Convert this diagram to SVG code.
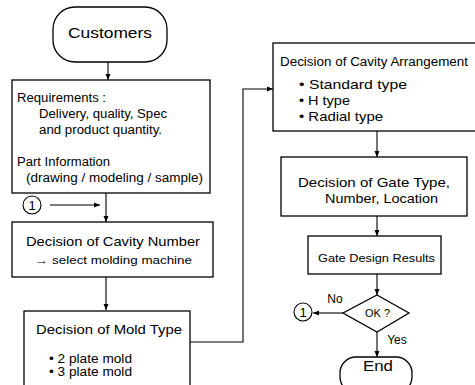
<svg xmlns="http://www.w3.org/2000/svg" width="475" height="385" viewBox="0 0 475 385">
  <defs>
    <marker id="arrow" viewBox="0 0 6 6" refX="6" refY="3" markerWidth="6" markerHeight="6" markerUnits="userSpaceOnUse" orient="auto">
      <path d="M0,0.5 L6,3 L0,5.5 Z" fill="#000"/>
    </marker>
  </defs>
  <style>
    .box { fill: #fff; stroke: #000; stroke-width: 1.3; }
    .edge { fill: none; stroke: #000; stroke-width: 1.1; marker-end: url(#arrow); }
    .ref { fill: #fff; stroke: #000; stroke-width: 1.1; }
    text { font-family: "Liberation Sans", Arial, sans-serif; fill: #000; }
    .t12 { font-size: 12px; }
    .t13 { font-size: 13px; }
    .t11 { font-size: 11px; }
    .t15 { font-size: 15px; }
    .mid { text-anchor: middle; }
  </style>
  <rect width="475" height="385" fill="#fff"/>

  <!-- connectors -->
  <g id="connectors">
    <path class="edge" d="M108,62 V80"/>
    <path class="edge" d="M106,193 V222"/>
    <path class="edge" d="M50,205 H100"/>
    <path class="edge" d="M106,277 V310"/>
    <path class="edge" d="M190,342 H243 V89 H273"/>
    <path class="edge" d="M377,131 V157"/>
    <path class="edge" d="M377,216 V236"/>
    <path class="edge" d="M377,274 V295"/>
    <path class="edge" d="M343,313 H313"/>
    <path class="edge" d="M377,332 V357"/>
    <text class="t12 mid" x="335" y="303">No</text>
    <text class="t12 mid" x="397" y="344">Yes</text>
  </g>

  <g id="customers">
    <rect class="box" x="53" y="7" width="114" height="55" rx="22" ry="22"/>
    <text class="t15 mid" x="110" y="38" textLength="84" lengthAdjust="spacingAndGlyphs">Customers</text>
  </g>

  <g id="requirements">
    <rect class="box" x="12" y="80" width="198" height="113"/>
    <text class="t12" x="17" y="102" textLength="89" lengthAdjust="spacingAndGlyphs">Requirements :</text>
    <text class="t12" x="39" y="118" textLength="128" lengthAdjust="spacingAndGlyphs">Delivery, quality, Spec</text>
    <text class="t12" x="39" y="134" textLength="123" lengthAdjust="spacingAndGlyphs">and product quantity.</text>
    <text class="t12" x="17" y="166" textLength="93" lengthAdjust="spacingAndGlyphs">Part Information</text>
    <text class="t12" x="26" y="182" textLength="177" lengthAdjust="spacingAndGlyphs">(drawing / modeling / sample)</text>
  </g>

  <g id="loop-in">
    <circle class="ref" cx="32" cy="205" r="9"/>
    <text class="t13 mid" x="32" y="210">1</text>
  </g>

  <g id="cavity-number">
    <rect class="box" x="12" y="222" width="201" height="55"/>
    <text class="t13" x="26" y="246" textLength="174" lengthAdjust="spacingAndGlyphs">Decision of Cavity Number</text>
    <text class="t11" x="35" y="264" textLength="157" lengthAdjust="spacingAndGlyphs">→ select  molding machine</text>
  </g>

  <g id="mold-type">
    <rect class="box" x="24" y="311" width="166" height="90"/>
    <text class="t13" x="36" y="334" textLength="146" lengthAdjust="spacingAndGlyphs">Decision of Mold Type</text>
    <text class="t12" x="49" y="363" textLength="83" lengthAdjust="spacingAndGlyphs">• 2 plate mold</text>
    <text class="t12" x="49" y="376" textLength="83" lengthAdjust="spacingAndGlyphs">• 3 plate mold</text>
  </g>

  <g id="cavity-arrangement">
    <rect class="box" x="273" y="43" width="210" height="88"/>
    <text class="t12" x="280" y="66" textLength="188" lengthAdjust="spacingAndGlyphs">Decision of Cavity Arrangement</text>
    <text class="t13" x="299" y="89" textLength="108" lengthAdjust="spacingAndGlyphs">• Standard type</text>
    <text class="t13" x="299" y="105" textLength="51" lengthAdjust="spacingAndGlyphs">• H type</text>
    <text class="t13" x="299" y="121" textLength="84" lengthAdjust="spacingAndGlyphs">• Radial type</text>
  </g>

  <g id="gate-type">
    <rect class="box" x="281" y="157" width="186" height="59"/>
    <text class="t13" x="298" y="187" textLength="152" lengthAdjust="spacingAndGlyphs">Decision of Gate Type,</text>
    <text class="t13" x="325" y="203" textLength="113" lengthAdjust="spacingAndGlyphs">Number, Location</text>
  </g>

  <g id="gate-results">
    <rect class="box" x="308" y="236" width="133" height="38"/>
    <text class="t11" x="318" y="262" textLength="117" lengthAdjust="spacingAndGlyphs">Gate Design Results</text>
  </g>

  <g id="ok-check">
    <path class="box" d="M377,295 L409,313 L377,332 L343,313 Z"/>
    <text class="t11" x="365" y="317" textLength="25" lengthAdjust="spacingAndGlyphs">OK ?</text>
  </g>

  <g id="loop-out">
    <circle class="ref" cx="303" cy="312" r="9"/>
    <text class="t13 mid" x="303" y="317">1</text>
  </g>

  <g id="end">
    <rect class="box" x="340" y="357" width="72" height="36" rx="16" ry="16"/>
    <text class="t15 mid" x="378" y="371" textLength="30" lengthAdjust="spacingAndGlyphs">End</text>
  </g>
</svg>
